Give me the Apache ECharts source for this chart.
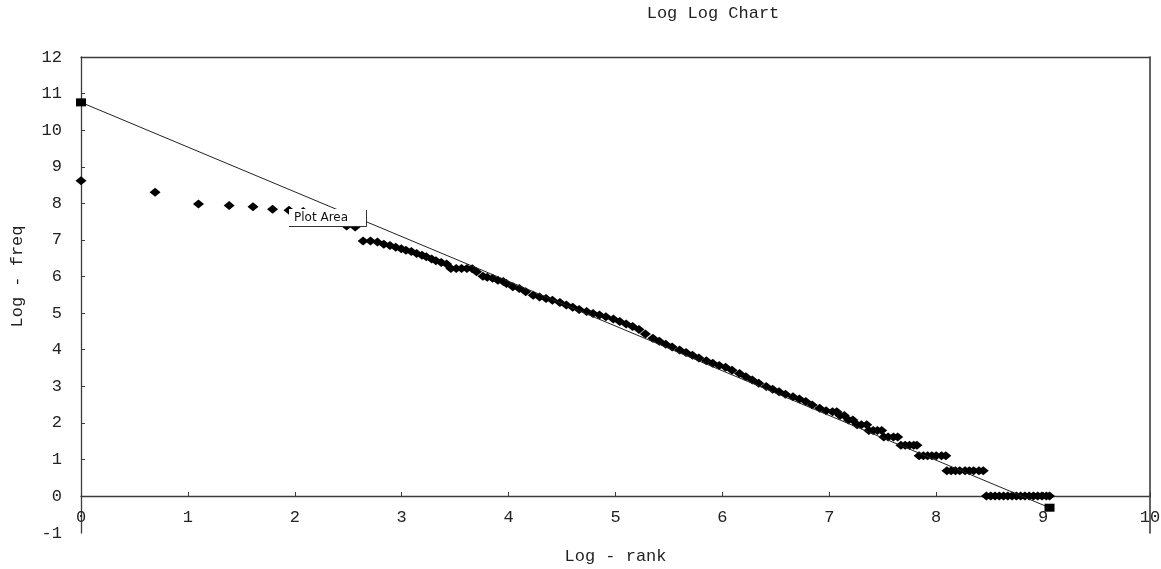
<!DOCTYPE html>
<html>
<head>
<meta charset="utf-8">
<script src="https://cdn.jsdelivr.net/npm/echarts@6/dist/echarts.min.js"></script>
<style>html,body{margin:0;padding:0;background:#fff;}#c{width:1161px;height:569px;}</style>
</head>
<body>
<div id="c"></div>
<script>
// Log(rank) values of the observed points
const logRank = [
  0, 0.693, 1.099, 1.386, 1.609, 1.792, 1.946, 2.079, 2.197, 2.303, 2.398, 2.485, 2.565, 2.639, 2.708, 2.773,
  2.833, 2.890, 2.944, 2.996, 3.04, 3.09, 3.14, 3.19, 3.23, 3.28, 3.32, 3.37, 3.42, 3.46, 3.51, 3.56, 3.61, 3.66,
  3.70, 3.76, 3.80, 3.85, 3.90, 3.95, 3.98, 4.04, 4.10, 4.16, 4.23, 4.29, 4.35, 4.41, 4.48, 4.54, 4.60, 4.66,
  4.73, 4.79, 4.85, 4.91, 4.98, 5.04, 5.10, 5.16, 5.22, 5.28, 5.35, 5.41, 5.47, 5.53, 5.60, 5.66, 5.72, 5.78,
  5.85, 5.91, 5.97, 6.03, 6.09, 6.16, 6.22, 6.28, 6.34, 6.41, 6.47, 6.53, 6.59, 6.66, 6.72, 6.78, 6.84, 6.91,
  6.97, 7.03, 7.07, 7.10, 7.14, 7.18, 7.22, 7.26, 7.30, 7.35, 7.37, 7.41, 7.45, 7.49, 7.51, 7.55, 7.60, 7.64,
  7.67, 7.71, 7.75, 7.79, 7.82, 7.84, 7.88, 7.92, 7.96, 8.00, 8.05, 8.09, 8.10, 8.14, 8.18, 8.22, 8.27, 8.31,
  8.35, 8.40, 8.44, 8.47, 8.51, 8.55, 8.59, 8.63, 8.67, 8.71, 8.75, 8.79, 8.83, 8.87, 8.91, 8.95, 8.99, 9.03, 9.06
];
// Log(freq) values of the observed points
const logFreq = [
  8.62, 8.30, 7.98, 7.94, 7.91, 7.84, 7.81, 7.78, 7.70, 7.62, 7.50, 7.38, 7.35, 6.97, 6.97, 6.94,
  6.88, 6.85, 6.80, 6.76, 6.72, 6.68, 6.63, 6.58, 6.54, 6.48, 6.43, 6.38, 6.34, 6.22, 6.22, 6.22, 6.22, 6.21,
  6.13, 6.01, 5.98, 5.95, 5.90, 5.86, 5.81, 5.72, 5.67, 5.58, 5.49, 5.44, 5.40, 5.35, 5.29, 5.22, 5.16, 5.10,
  5.04, 4.99, 4.95, 4.90, 4.84, 4.77, 4.70, 4.63, 4.55, 4.43, 4.31, 4.23, 4.15, 4.07, 3.99, 3.92, 3.85, 3.77,
  3.70, 3.63, 3.57, 3.52, 3.44, 3.35, 3.26, 3.17, 3.08, 2.99, 2.92, 2.85, 2.78, 2.71, 2.65, 2.58, 2.49, 2.40,
  2.33, 2.30, 2.30, 2.20, 2.20, 2.08, 2.08, 1.95, 1.95, 1.95, 1.79, 1.79, 1.79, 1.79, 1.61, 1.61, 1.61, 1.61,
  1.39, 1.39, 1.39, 1.39, 1.39, 1.10, 1.10, 1.10, 1.10, 1.10, 1.10, 1.10, 0.69, 0.69, 0.69, 0.69, 0.69, 0.69,
  0.69, 0.69, 0.69, 0, 0, 0, 0, 0, 0, 0, 0, 0, 0, 0, 0, 0, 0, 0, 0
];
// Fitted line end points
const fitRank = [0, 9.06];
const fitFreq = [10.76, -0.32];
// Axis ranges
const xMin = 0, xMax = 10;
const yMin = -1, yMax = 12;

const mono = 'Liberation Mono';
const axisCol = '#3c3c3c';
const txt = '#222';
const chart = echarts.init(document.getElementById('c'));
chart.setOption({
  animation: false,
  backgroundColor: '#fff',
  title: {
    text: 'Log Log Chart',
    left: 708, top: 0, textAlign: 'center',
    textStyle: { fontFamily: mono, fontSize: 17, fontWeight: 'normal', color: txt }
  },
  grid: [
    { left: 81, right: 11, top: 57, bottom: 73, outerBoundsMode: 'none', containLabel: false },
    { left: 81, right: 11, top: 496, bottom: 36, outerBoundsMode: 'none', containLabel: false }
  ],
  xAxis: [{
    gridIndex: 0, type: 'value', min: xMin, max: xMax, interval: 1,
    name: 'Log - rank', nameLocation: 'middle', nameGap: 52,
    nameTextStyle: { fontFamily: mono, fontSize: 17, color: txt },
    axisLine: { show: true, onZero: false, lineStyle: { color: axisCol, width: 1.3 } },
    axisTick: { show: true, inside: true, length: 4, lineStyle: { color: axisCol } },
    axisLabel: { fontFamily: mono, fontSize: 17, color: txt, margin: 13 },
    splitLine: { show: false }
  }, {
    gridIndex: 0, type: 'value', position: 'top', min: xMin, max: xMax,
    axisLine: { show: true, onZero: false, lineStyle: { color: axisCol, width: 1.3 } },
    axisTick: { show: false }, axisLabel: { show: false }, splitLine: { show: false }
  }, {
    gridIndex: 1, type: 'value', min: xMin, max: xMax, show: false
  }],
  yAxis: [{
    gridIndex: 0, type: 'value', min: 0, max: yMax, interval: 1,
    name: 'Log - freq', nameLocation: 'middle', nameGap: 55,
    nameTextStyle: { fontFamily: mono, fontSize: 17, color: txt },
    axisLine: { show: true, onZero: false, lineStyle: { color: axisCol, width: 1.3 } },
    axisTick: { show: true, inside: true, length: 4, lineStyle: { color: axisCol } },
    axisLabel: { fontFamily: mono, fontSize: 17, color: txt, margin: 19 },
    splitLine: { show: false }
  }, {
    gridIndex: 0, type: 'value', position: 'right', min: 0, max: yMax,
    axisLine: { show: true, onZero: false, lineStyle: { color: axisCol, width: 1.6 } },
    axisTick: { show: false }, axisLabel: { show: false }, splitLine: { show: false }
  }, {
    gridIndex: 1, type: 'value', min: yMin, max: 0, interval: 1,
    axisLine: { show: true, onZero: false, lineStyle: { color: axisCol, width: 1.3 } },
    axisTick: { show: false },
    axisLabel: { fontFamily: mono, fontSize: 17, color: txt, margin: 19, showMaxLabel: false },
    splitLine: { show: false }
  }, {
    gridIndex: 1, type: 'value', position: 'right', min: yMin, max: 0,
    axisLine: { show: true, onZero: false, lineStyle: { color: axisCol, width: 1.6 } },
    axisTick: { show: false }, axisLabel: { show: false }, splitLine: { show: false }
  }],
  series: [{
    type: 'scatter', name: 'observed', xAxisIndex: 0, yAxisIndex: 0,
    data: logRank.map((x, i) => [x, logFreq[i]]),
    symbol: 'diamond', symbolSize: [11, 9], clip: false,
    itemStyle: { color: '#000', opacity: 1 }
  }, {
    type: 'line', name: 'fit', xAxisIndex: 0, yAxisIndex: 0,
    data: fitRank.map((x, i) => [x, fitFreq[i]]),
    symbol: 'rect', symbolSize: [10, 8], showAllSymbol: true, clip: false,
    lineStyle: { color: '#222', width: 1 },
    itemStyle: { color: '#000', opacity: 1 }
  }],
  graphic: [
    { type: 'rect', z: 100, shape: { x: 289, y: 209, width: 77, height: 17 }, style: { fill: '#fff' } },
    { type: 'polyline', z: 101, shape: { points: [[289, 226.5], [366.5, 226.5], [366.5, 210]] }, style: { stroke: '#333', lineWidth: 1, fill: null } },
    { type: 'text', z: 102, x: 294, y: 218, style: { text: 'Plot Area', fontFamily: 'DejaVu Sans', fontSize: 12, fill: '#111', verticalAlign: 'middle' } }
  ]
});
</script>
</body>
</html>
